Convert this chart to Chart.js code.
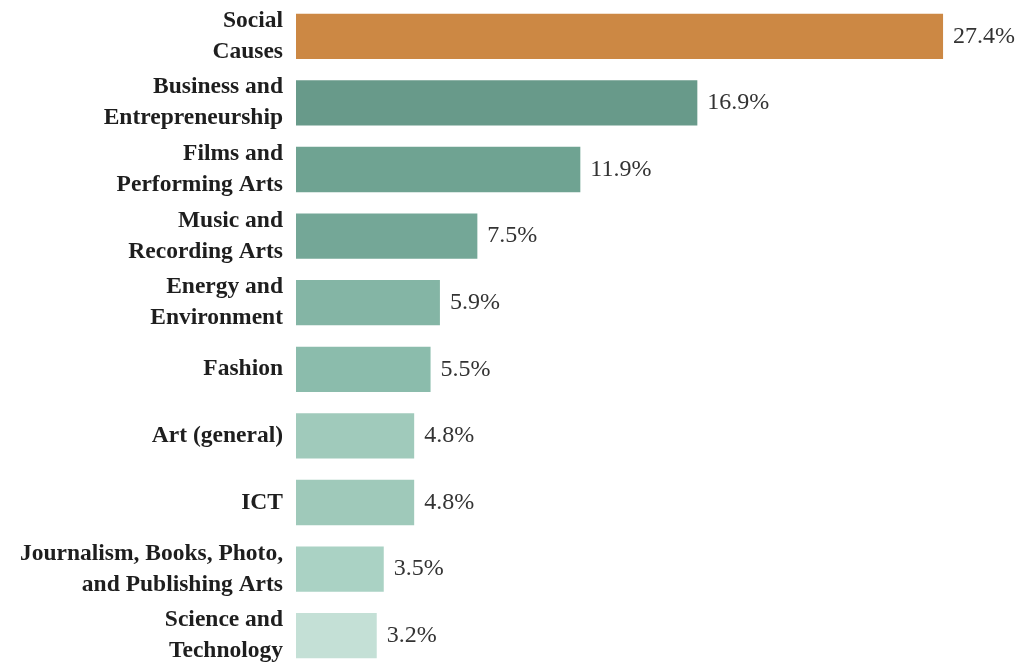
<!DOCTYPE html>
<html>
<head>
<meta charset="utf-8">
<script src="https://cdn.jsdelivr.net/npm/chart.js@4.4.1/dist/chart.umd.min.js"></script>
<style>
  html, body { margin: 0; padding: 0; background: #ffffff; }
  #wrap { width: 1020px; height: 669px; position: relative; }
</style>
</head>
<body>
<div id="wrap"><canvas id="c"></canvas></div>
<script>
const categories = [
  ["Social", "Causes"],
  ["Business and", "Entrepreneurship"],
  ["Films and", "Performing Arts"],
  ["Music and", "Recording Arts"],
  ["Energy and", "Environment"],
  "Fashion",
  "Art (general)",
  "ICT",
  ["Journalism, Books, Photo,", "and Publishing Arts"],
  ["Science and", "Technology"]
];
const shares = [27.4, 16.9, 11.9, 7.5, 5.9, 5.5, 4.8, 4.8, 3.5, 3.2];
const valueLabels = ["27.4%", "16.9%", "11.9%", "7.5%", "5.9%", "5.5%", "4.8%", "4.8%", "3.5%", "3.2%"];
const barColors = ["#CC8844", "#689A8A", "#6FA392", "#74A797", "#84B5A5", "#8BBCAC", "#A0CABB", "#9FC9BA", "#AAD2C4", "#C4E0D6"];
const axisStart = -0.25;

const valueLabelPlugin = {
  id: 'valueLabels',
  afterDatasetsDraw(chart) {
    const ctx = chart.ctx;
    const meta = chart.getDatasetMeta(0);
    ctx.save();
    ctx.font = '24px "Liberation Serif", "DejaVu Serif", serif';
    ctx.fillStyle = '#333333';
    ctx.textAlign = 'left';
    ctx.textBaseline = 'middle';
    meta.data.forEach((bar, i) => {
      ctx.fillText(valueLabels[i], bar.x + 10, bar.y);
    });
    ctx.restore();
  }
};

new Chart(document.getElementById('c'), {
  type: 'bar',
  data: {
    labels: categories,
    datasets: [{
      data: shares,
      base: axisStart,
      backgroundColor: barColors,
      borderWidth: 0,
      categoryPercentage: 0.68,
      barPercentage: 1.0
    }]
  },
  options: {
    indexAxis: 'y',
    responsive: true,
    maintainAspectRatio: false,
    animation: false,
    layout: { padding: { top: 3, bottom: 0, left: 0, right: 16.1 } },
    plugins: { legend: { display: false }, tooltip: { enabled: false } },
    scales: {
      x: { display: false, min: axisStart, max: 30 },
      y: {
        grid: { display: false, drawTicks: false },
        border: { display: false },
        afterFit(scale) {
          scale.width = 296;
          scale.paddingTop = 0;
          scale.paddingBottom = 0;
        },
        ticks: {
          padding: 13,
          color: '#1e1e1e',
          font: { family: '"Liberation Serif", "DejaVu Serif", serif', size: 23.5, weight: 'bold', lineHeight: 1.32 }
        }
      }
    }
  },
  plugins: [valueLabelPlugin]
});
</script>
</body>
</html>
